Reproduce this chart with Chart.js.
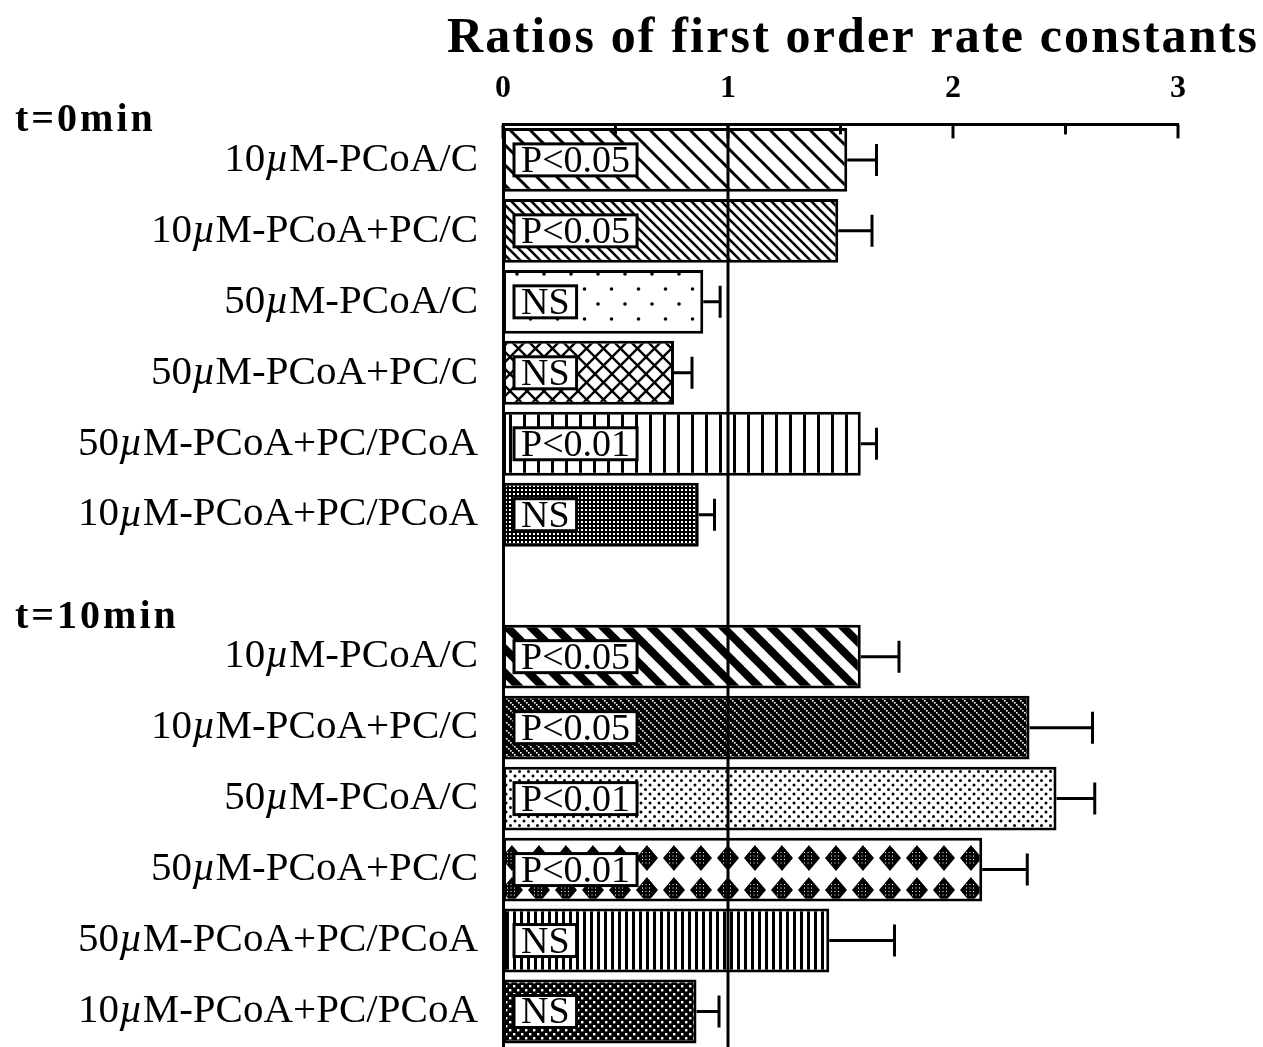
<!DOCTYPE html>
<html>
<head>
<meta charset="utf-8">
<script src="https://cdn.jsdelivr.net/npm/chart.js@4"></script>
<style>
  html, body { margin: 0; padding: 0; background: #fff; }
  #wrap { width: 1263px; height: 1047px; }
</style>
</head>
<body>
<div id="wrap"><canvas id="myChart"></canvas></div>
<script>
const chartTitle = 'Ratios of first order rate constants';
const groupTitles = ['t=0min', 't=10min'];
const rowLabels = ['10µM-PCoA/C', '10µM-PCoA+PC/C', '50µM-PCoA/C', '50µM-PCoA+PC/C', '50µM-PCoA+PC/PCoA', '10µM-PCoA+PC/PCoA'];
const xTicks = [0, 1, 2, 3];

const ratios0 = [1.53, 1.49, 0.89, 0.76, 1.59, 0.87];
const errors0 = [0.13, 0.15, 0.075, 0.08, 0.07, 0.07];
const sig0 = ['P<0.05', 'P<0.05', 'NS', 'NS', 'P<0.01', 'NS'];

const ratios10 = [1.59, 2.34, 2.46, 2.13, 1.45, 0.86];
const errors10 = [0.17, 0.28, 0.17, 0.20, 0.29, 0.10];
const sig10 = ['P<0.05', 'P<0.05', 'P<0.01', 'P<0.01', 'NS', 'NS'];

// one empty slot between the two groups
const labels = rowLabels.concat([''], rowLabels);
const ratios = ratios0.concat([null], ratios10);
const errors = errors0.concat([null], errors10);
const sigs = sig0.concat([null], sig10);

function makePattern(w, h, bg, draw) {
    const c = document.createElement('canvas');
    c.width = w; c.height = h;
    const g = c.getContext('2d');
    g.fillStyle = bg;
    g.fillRect(0, 0, w, h);
    g.fillStyle = '#000';
    g.strokeStyle = '#000';
    draw(g, w, h);
    return g.createPattern(c, 'repeat');
}
function diag(g, s, lw) {
    g.lineWidth = lw;
    for (let k = -1; k <= 1; k++) {
        g.beginPath(); g.moveTo(-s, (k - 1) * s); g.lineTo(2 * s, (k + 2) * s); g.stroke();
    }
}
function antiDiag(g, s, lw) {
    g.lineWidth = lw;
    for (let k = -1; k <= 1; k++) {
        g.beginPath(); g.moveTo(-s, (k + 2) * s); g.lineTo(2 * s, (k - 1) * s); g.stroke();
    }
}
function dot(g, x, y, r) {
    g.beginPath(); g.arc(x, y, r, 0, Math.PI * 2); g.fill();
}
function diamonds(g, w, h) {
    const cx = 26, cy = 26, hw = 11, hh = 13;
    for (let dx = -1; dx <= 1; dx++) {
        for (let dy = -1; dy <= 1; dy++) {
            const x = cx + dx * w, y = cy + dy * h;
            g.fillStyle = '#000';
            g.beginPath();
            g.moveTo(x, y - hh); g.lineTo(x + hw, y); g.lineTo(x, y + hh); g.lineTo(x - hw, y); g.closePath();
            g.fill();
            g.fillStyle = '#fff';
            for (let px = x - 5; px <= x + 5; px += 3.5) {
                for (let py = y - 6; py <= y + 6; py += 3.5) g.fillRect(px, py, 1, 1);
            }
        }
    }
}

const patterns = [
    makePattern(20, 20, '#fff', g => diag(g, 20, 3)),
    makePattern(10, 10, '#fff', g => diag(g, 10, 2.6)),
    makePattern(27, 30, '#fff', g => { dot(g, 4, 4, 1.8); dot(g, 17.5, 19, 1.8); }),
    makePattern(17, 17, '#fff', g => { diag(g, 17, 2.4); antiDiag(g, 17, 2.4); }),
    makePattern(14, 10, '#fff', g => g.fillRect(5, 0, 3, 10)),
    makePattern(4, 4, '#000', g => { g.fillStyle = '#fff'; g.fillRect(1, 1, 2, 2); }),
    null,
    makePattern(24, 24, '#fff', g => diag(g, 24, 8)),
    makePattern(8, 8, '#000', g => {
        g.fillStyle = '#fff';
        [0, 2, 4, 6].forEach(p => g.fillRect(p, p, 1.6, 1.6));
    }),
    makePattern(9, 9, '#fff', g => { dot(g, 2, 2, 1.5); dot(g, 6.5, 6.5, 1.5); }),
    makePattern(27, 32, '#fff', diamonds),
    makePattern(7, 10, '#fff', g => g.fillRect(2, 0, 3, 10)),
    makePattern(8, 8, '#000', g => {
        g.fillStyle = '#fff';
        g.fillRect(1, 1, 2.4, 2.4); g.fillRect(5, 5, 2.4, 2.4);
    })
];

const serif = "'Liberation Serif', 'Times New Roman', serif";

const decorPlugin = {
    id: 'decor',
    afterDatasetsDraw(chart) {
        const ctx = chart.ctx;
        const xs = chart.scales.x;
        const area = chart.chartArea;
        const meta = chart.getDatasetMeta(0);
        ctx.save();
        ctx.strokeStyle = '#000';
        ctx.lineWidth = 3;

        // error bars
        meta.data.forEach((bar, i) => {
            if (ratios[i] == null) return;
            const xe = xs.getPixelForValue(ratios[i] + errors[i]);
            ctx.beginPath();
            ctx.moveTo(bar.x, bar.y); ctx.lineTo(xe, bar.y);
            ctx.moveTo(xe, bar.y - 16); ctx.lineTo(xe, bar.y + 16);
            ctx.stroke();
        });

        // reference line at ratio 1
        const x1 = xs.getPixelForValue(1);
        ctx.beginPath();
        ctx.moveTo(x1, area.top); ctx.lineTo(x1, area.bottom);
        ctx.stroke();

        // tick marks pointing down from the top axis
        xs.ticks.forEach(t => {
            const px = xs.getPixelForValue(t.value);
            const len = Number.isInteger(t.value) ? 14 : 10;
            ctx.beginPath();
            ctx.moveTo(px, area.top); ctx.lineTo(px, area.top + len);
            ctx.stroke();
        });

        // significance boxes
        ctx.font = '38px ' + serif;
        ctx.textBaseline = 'middle';
        ctx.textAlign = 'left';
        meta.data.forEach((bar, i) => {
            if (!sigs[i]) return;
            const tw = ctx.measureText(sigs[i]).width;
            const bx = xs.getPixelForValue(0) + 11;
            const bw = tw + 14, bh = 32;
            ctx.fillStyle = '#fff';
            ctx.fillRect(bx, bar.y - bh / 2, bw, bh);
            ctx.strokeRect(bx, bar.y - bh / 2, bw, bh);
            ctx.fillStyle = '#000';
            ctx.fillText(sigs[i], bx + 7, bar.y + 2);
        });
        ctx.restore();
    },
    afterDraw(chart) {
        const ctx = chart.ctx;
        const ys = chart.scales.y;
        const area = chart.chartArea;
        const pitch = (area.bottom - area.top) / labels.length;
        ctx.save();
        ctx.fillStyle = '#000';

        // title, spread like the original typesetting
        ctx.font = 'bold 50px ' + serif;
        ctx.textBaseline = 'alphabetic';
        ctx.textAlign = 'left';
        const tw = ctx.measureText(chartTitle).width;
        const spacing = Math.max(0, (810 - tw) / (chartTitle.length - 1));
        ctx.letterSpacing = spacing + 'px';
        ctx.fillText(chartTitle, 447, 52);
        ctx.letterSpacing = '0px';

        // row labels, with italic mu
        ctx.textBaseline = 'middle';
        const xr = area.left - 25;
        const up = '41px ' + serif, it = 'italic 41px ' + serif;
        labels.forEach((lab, i) => {
            if (!lab) return;
            const y = ys.getPixelForValue(i);
            const parts = lab.split('µ');
            ctx.font = up;
            const w0 = ctx.measureText(parts[0]).width;
            const w2 = ctx.measureText(parts[1]).width;
            ctx.font = it;
            const w1 = ctx.measureText('µ').width;
            let x = xr - (w0 + w1 + w2);
            ctx.font = up; ctx.fillText(parts[0], x, y); x += w0;
            ctx.font = it; ctx.fillText('µ', x, y); x += w1;
            ctx.font = up; ctx.fillText(parts[1], x, y);
        });

        // group headings
        ctx.textBaseline = 'alphabetic';
        ctx.font = 'bold 40px ' + serif;
        ctx.letterSpacing = '3px';
        groupTitles.forEach((t, g) => {
            const y = ys.getPixelForValue(g * 7) - pitch * 0.41;
            ctx.fillText(t, 15, y);
        });
        ctx.restore();
    }
};

const ctx = document.getElementById('myChart').getContext('2d');
const chart = new Chart(ctx, {
    type: 'bar',
    data: {
        labels: labels,
        datasets: [{
            data: ratios,
            backgroundColor: patterns,
            borderColor: '#000',
            borderWidth: 3,
            borderSkipped: false,
            barPercentage: 0.9,
            categoryPercentage: 1.0
        }]
    },
    options: {
        indexAxis: 'y',
        responsive: true,
        maintainAspectRatio: false,
        animation: false,
        layout: { padding: { top: 54, left: 503, right: 85, bottom: 0 } },
        plugins: {
            legend: { display: false },
            tooltip: { enabled: false }
        },
        scales: {
            x: {
                position: 'top',
                min: 0,
                max: 3,
                afterBuildTicks: scale => {
                    const t = [];
                    xTicks.forEach((v, i) => {
                        t.push({ value: v });
                        if (i < xTicks.length - 1) t.push({ value: v + 0.5 });
                    });
                    scale.ticks = t;
                },
                grid: { display: false, drawTicks: false },
                border: { display: true, color: '#000', width: 3 },
                ticks: {
                    color: '#000',
                    padding: 16,
                    font: { family: serif, size: 32, weight: 'bold' },
                    callback: v => Number.isInteger(v) ? String(v) : ''
                }
            },
            y: {
                afterFit: scale => { scale.width = 0; },
                grid: { display: false },
                border: { display: true, color: '#000', width: 3 },
                ticks: { display: false }
            }
        }
    },
    plugins: [decorPlugin]
});
</script>
</body>
</html>
